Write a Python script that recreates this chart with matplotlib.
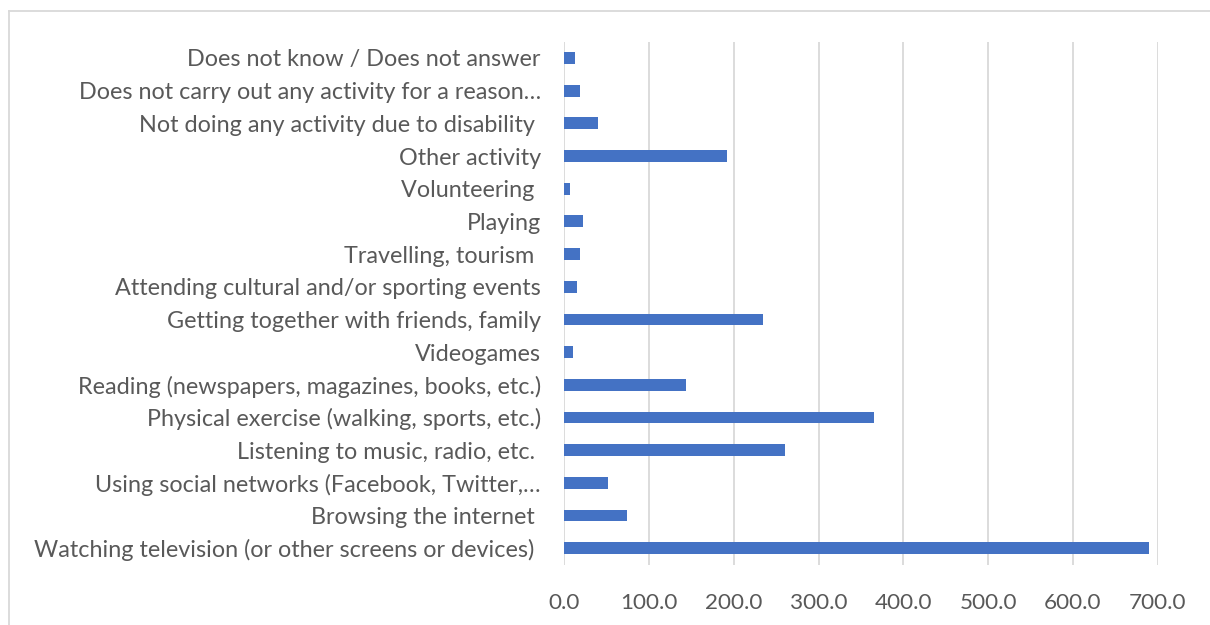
import matplotlib.pyplot as plt
from matplotlib.lines import Line2D

# Activities, listed top to bottom
activities = [
    "Does not know / Does not answer",
    "Does not carry out any activity for a reason\u2026",
    "Not doing any activity due to disability ",
    "Other activity",
    "Volunteering ",
    "Playing",
    "Travelling, tourism ",
    "Attending cultural and/or sporting events",
    "Getting together with friends, family",
    "Videogames",
    "Reading (newspapers, magazines, books, etc.)",
    "Physical exercise (walking, sports, etc.)",
    "Listening to music, radio, etc. ",
    "Using social networks (Facebook, Twitter,\u2026",
    "Browsing the internet ",
    "Watching television (or other screens or devices) ",
]
counts = [12, 19, 40, 192, 7, 22, 19, 15, 234, 10, 144, 365, 260, 52, 74, 690]
xticks = [0, 100, 200, 300, 400, 500, 600, 700]

plt.rcParams['font.family'] = ['Lato', 'DejaVu Sans']
text_color = '#595959'

fig = plt.figure(figsize=(12.1, 6.25), dpi=100)
ax = fig.add_axes([0.4664, 0.0968, 0.4904, 0.8366])

ypos = range(len(activities))
ax.barh(ypos, counts, height=0.36, color='#4472C4', zorder=3)
ax.set_yticks(list(ypos))
ax.set_yticklabels(activities, fontsize=16.8, color=text_color)
ax.set_ylim(len(activities) - 0.5, -0.5)

ax.set_xlim(0, 700)
ax.set_xticks(xticks)
ax.set_xticklabels([f"{t:.1f}" for t in xticks], fontsize=16.2, color=text_color)
ax.xaxis.grid(True, color='#D9D9D9', linewidth=1.3, zorder=0)
ax.tick_params(length=0)
ax.tick_params(axis='y', pad=17)
ax.tick_params(axis='x', pad=20.5)
for s in ax.spines.values():
    s.set_visible(False)

# chart frame (top and left edges)
fig.add_artist(Line2D([8.7 / 1210, 1.0], [1 - 10.7 / 625] * 2, color='#D9D9D9', lw=1.3))
fig.add_artist(Line2D([8.7 / 1210] * 2, [0.0, 1 - 10.7 / 625], color='#D9D9D9', lw=1.3))

fig.savefig('out.png', dpi=100)
